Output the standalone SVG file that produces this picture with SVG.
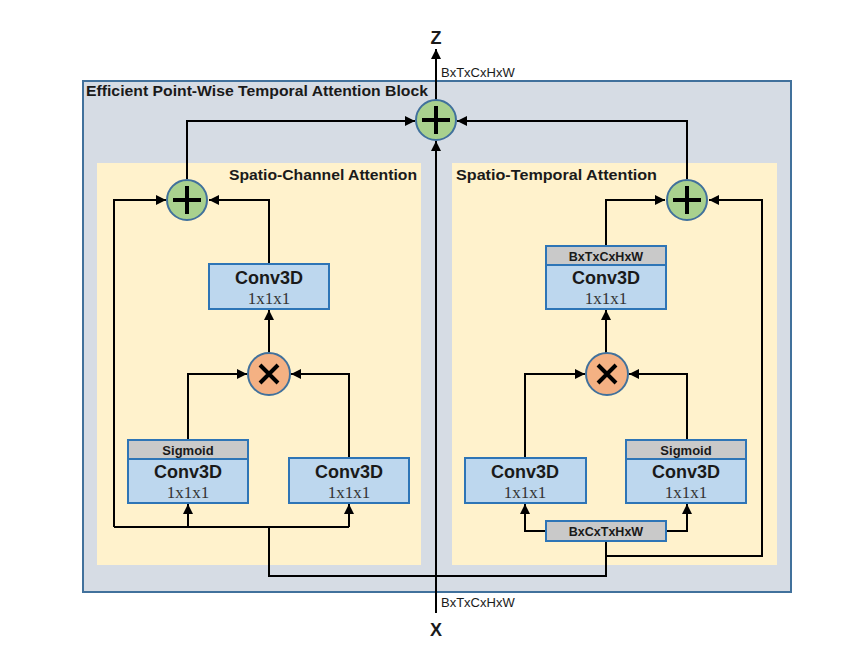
<svg xmlns="http://www.w3.org/2000/svg" width="865" height="661" viewBox="0 0 865 661">
<defs>
<style>
.ln{fill:none;stroke:#000;stroke-width:2}
.t{font-family:"Liberation Sans",Arial,sans-serif;fill:#1a1a1a}
.b{font-weight:bold}
.s{font-family:"Liberation Serif","Times New Roman",serif;fill:#333}
.box{fill:#bdd7ee;stroke:#2e75b6;stroke-width:2}
.hdr{fill:#c9c9c9;stroke:#2e75b6;stroke-width:2}
.add{fill:#a9d18e;stroke:#41719c;stroke-width:2}
.mul{fill:#f4b183;stroke:#41719c;stroke-width:2}
.sym{stroke:#000;stroke-width:4;fill:none}
.cv{font-size:18px}
.nm{font-size:17px}
</style>
<marker id="ar" viewBox="0 0 10 10" refX="10" refY="5" markerWidth="10" markerHeight="10" markerUnits="userSpaceOnUse" orient="auto"><path d="M0,0 L10,5 L0,10 z" fill="#000"/></marker>
</defs>
<rect width="865" height="661" fill="#fff"/>
<g id="block">
<rect x="83" y="81" width="708" height="511" fill="#d6dce4" stroke="#41719c" stroke-width="2"/>
<text class="t b" x="86" y="96" font-size="15" textLength="342" lengthAdjust="spacingAndGlyphs">Efficient Point-Wise Temporal Attention Block</text>
</g>
<g id="panel-sca">
<rect x="97" y="163" width="324" height="402" fill="#fff2cc"/>
<text class="t b" x="417" y="180" font-size="15" text-anchor="end" textLength="188" lengthAdjust="spacingAndGlyphs">Spatio-Channel Attention</text>
</g>
<g id="panel-sta">
<rect x="452" y="163" width="325" height="402" fill="#fff2cc"/>
<text class="t b" x="456" y="180" font-size="15" textLength="201" lengthAdjust="spacingAndGlyphs">Spatio-Temporal Attention</text>
</g>
<g id="connectors">
<path class="ln" d="M436,613 V141" marker-end="url(#ar)"/>
<path class="ln" d="M436,100 V49" marker-end="url(#ar)"/>
<path class="ln" d="M187,179 V121 H415" marker-end="url(#ar)"/>
<path class="ln" d="M687,179 V121 H457" marker-end="url(#ar)"/>
<path class="ln" d="M114,527 V200 H166" marker-end="url(#ar)"/>
<path class="ln" d="M269,264 V200 H209" marker-end="url(#ar)"/>
<path class="ln" d="M269,353 V310" marker-end="url(#ar)"/>
<path class="ln" d="M188,440 V374 H247" marker-end="url(#ar)"/>
<path class="ln" d="M349,458 V374 H291" marker-end="url(#ar)"/>
<path class="ln" d="M114,527 H349"/>
<path class="ln" d="M188,527 V504" marker-end="url(#ar)"/>
<path class="ln" d="M349,527 V504" marker-end="url(#ar)"/>
<path class="ln" d="M269,527 V576 H606 V541"/>
<path class="ln" d="M606,556 H762 V200 H709" marker-end="url(#ar)"/>
<path class="ln" d="M546,531 H525 V504" marker-end="url(#ar)"/>
<path class="ln" d="M666,531 H687 V504" marker-end="url(#ar)"/>
<path class="ln" d="M525,458 V374 H585" marker-end="url(#ar)"/>
<path class="ln" d="M687,440 V374 H629" marker-end="url(#ar)"/>
<path class="ln" d="M606,353 V310" marker-end="url(#ar)"/>
<path class="ln" d="M606,246 V200 H665" marker-end="url(#ar)"/>
</g>
<g id="label-z">
<text class="t b" x="436" y="44" font-size="18" text-anchor="middle">Z</text>
<text class="t" x="441" y="77" font-size="13">BxTxCxHxW</text>
</g>
<g id="label-x">
<text class="t b" x="436" y="636" font-size="18" text-anchor="middle">X</text>
<text class="t" x="441" y="607" font-size="13">BxTxCxHxW</text>
</g>
<g id="add-top">
<circle class="add" cx="436" cy="120" r="20"/>
<path class="sym" d="M422,120 H450 M436,106 V134"/>
</g>
<g id="add-left">
<circle class="add" cx="187" cy="200" r="20"/>
<path class="sym" d="M173,200 H201 M187,186 V214"/>
</g>
<g id="add-right">
<circle class="add" cx="687" cy="200" r="20"/>
<path class="sym" d="M673,200 H701 M687,186 V214"/>
</g>
<g id="mul-left">
<circle class="mul" cx="269" cy="374" r="21"/>
<path class="sym" d="M260,365 L278,383 M278,365 L260,383"/>
</g>
<g id="mul-right">
<circle class="mul" cx="607" cy="374" r="21"/>
<path class="sym" d="M598,365 L616,383 M616,365 L598,383"/>
</g>
<g id="conv-sca-out">
<rect class="box" x="209" y="264" width="120" height="45"/>
<text class="t b cv" x="269" y="284" text-anchor="middle">Conv3D</text>
<text class="s nm" x="269" y="304" text-anchor="middle">1x1x1</text>
</g>
<g id="conv-sca-sig">
<rect class="box" x="128" y="440" width="120" height="63"/>
<rect class="hdr" x="128" y="440" width="120" height="19"/>
<text class="t b" x="188" y="455" font-size="13" text-anchor="middle">Sigmoid</text>
<text class="t b cv" x="188" y="478" text-anchor="middle">Conv3D</text>
<text class="s nm" x="188" y="498" text-anchor="middle">1x1x1</text>
</g>
<g id="conv-sca-val">
<rect class="box" x="289" y="458" width="120" height="45"/>
<text class="t b cv" x="349" y="478" text-anchor="middle">Conv3D</text>
<text class="s nm" x="349" y="498" text-anchor="middle">1x1x1</text>
</g>
<g id="conv-sta-out">
<rect class="box" x="546" y="246" width="120" height="63"/>
<rect class="hdr" x="546" y="246" width="120" height="19"/>
<text class="t b" x="606" y="260.5" font-size="12.5" text-anchor="middle">BxTxCxHxW</text>
<text class="t b cv" x="606" y="284" text-anchor="middle">Conv3D</text>
<text class="s nm" x="606" y="304" text-anchor="middle">1x1x1</text>
</g>
<g id="conv-sta-val">
<rect class="box" x="465" y="458" width="121" height="45"/>
<text class="t b cv" x="525" y="478" text-anchor="middle">Conv3D</text>
<text class="s nm" x="525" y="498" text-anchor="middle">1x1x1</text>
</g>
<g id="conv-sta-sig">
<rect class="box" x="626" y="440" width="120" height="63"/>
<rect class="hdr" x="626" y="440" width="120" height="19"/>
<text class="t b" x="686" y="455" font-size="13" text-anchor="middle">Sigmoid</text>
<text class="t b cv" x="686" y="478" text-anchor="middle">Conv3D</text>
<text class="s nm" x="686" y="498" text-anchor="middle">1x1x1</text>
</g>
<g id="reshape">
<rect class="hdr" x="546" y="521" width="120" height="20"/>
<text class="t b" x="606" y="536" font-size="12.5" text-anchor="middle">BxCxTxHxW</text>
</g>
</svg>
